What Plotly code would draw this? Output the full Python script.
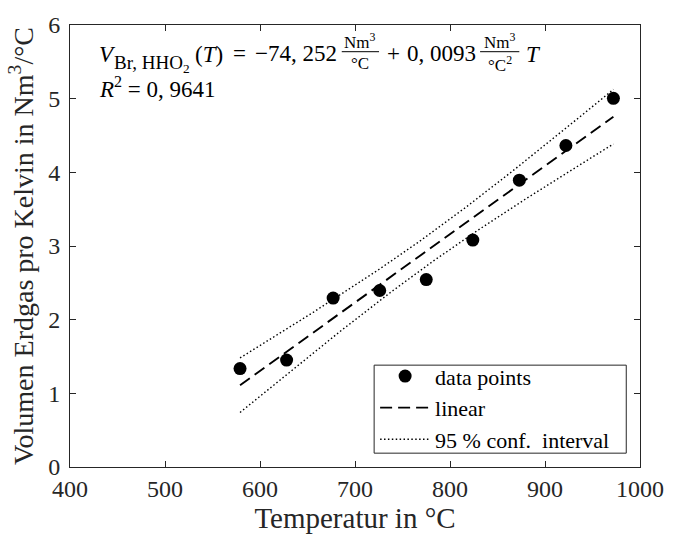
import numpy as np
import plotly.graph_objects as go

# Measured data
temperature = [579, 628, 677, 726, 775, 824, 873, 922, 972]            # °C
volume = [1.336, 1.451, 2.293, 2.396, 2.544, 3.081, 3.894, 4.364, 5.004]  # Nm³/°C

x_ticks = [400, 500, 600, 700, 800, 900, 1000]
y_ticks = [0, 1, 2, 3, 4, 5, 6]

# Regression statement shown on the chart
eq_symbol = "<i>V</i>"
eq_index = "Br, HHO<sub>2</sub>"
eq_arg = "(<i>T</i>)"
eq_intercept = "−74, 252"
eq_slope = "0, 0093"
eq_r2 = "<i>R</i><sup>2</sup> = 0, 9641"
unit_num = "Nm<sup>3</sup>"
unit_den1 = "°C"
unit_den2 = "°C<sup>2</sup>"

T_975_DOF7 = 2.3646  # two-sided 95 % Student-t quantile, n - 2 = 7 dof

# Least-squares line and 95 % confidence band of the fitted mean
x = np.asarray(temperature, float)
y = np.asarray(volume, float)
slope, intercept = np.polyfit(x, y, 1)
n = len(x)
s = np.sqrt(np.sum((y - (intercept + slope * x)) ** 2) / (n - 2))
xg = np.linspace(x.min(), x.max(), 200)
yg = intercept + slope * xg
half = T_975_DOF7 * s * np.sqrt(1 / n + (xg - x.mean()) ** 2 / np.sum((x - x.mean()) ** 2))

FONT = "Liberation Serif"
INK = "#262626"
DOTS = "1.5px,2.4px"

fig = go.Figure()
fig.add_trace(go.Scatter(x=temperature, y=volume, mode="markers", name="data points",
                         marker=dict(color="black", size=13)))
fig.add_trace(go.Scatter(x=xg, y=yg, mode="lines", name="linear",
                         line=dict(color="black", width=1.9, dash="12px,6px")))
fig.add_trace(go.Scatter(x=xg, y=yg + half, mode="lines", name="95 % conf.\u00a0 interval",
                         legendgroup="ci", line=dict(color="black", width=1.4, dash=DOTS)))
fig.add_trace(go.Scatter(x=xg, y=yg - half, mode="lines", showlegend=False,
                         legendgroup="ci", line=dict(color="black", width=1.4, dash=DOTS)))

# plot-area geometry in pixels
L, R, T, B = 70, 651, 20, 467


def px(xp):
    return (xp - L) / (R - L)


def py(yp):
    return (B - yp) / (B - T)


ann = []


def text(xp, yp, s, size=23, xanchor="left"):
    ann.append(dict(x=px(xp), y=py(yp), xref="paper", yref="paper", text=s, showarrow=False,
                    xanchor=xanchor, yanchor="middle", font=dict(family=FONT, size=size, color="black")))


shapes = []


def fraction(cx, num, den, w=38):
    text(cx, 36, num, size=17, xanchor="center")
    text(cx, 59, den, size=17, xanchor="center")
    shapes.append(dict(type="line", xref="paper", yref="paper", x0=px(cx - w / 2), x1=px(cx + w / 2),
                       y0=py(47), y1=py(47), line=dict(color="black", width=1)))


text(98, 50, eq_symbol)
text(113, 59, eq_index, size=19)
text(195, 50, eq_arg)
text(234, 49, "=")
text(257, 49, eq_intercept)
fraction(366, unit_num, unit_den1)
text(391, 49, "+")
text(411, 49, eq_slope)
fraction(508, unit_num, unit_den2, w=40)
text(533, 50, "<i>T</i>")
text(98, 83, eq_r2)

# frame around the legend entries
shapes.append(dict(type="rect", xref="paper", yref="paper", layer="above",
                   x0=px(380), x1=px(637), y0=py(453), y1=py(364),
                   fillcolor="white", line=dict(color=INK, width=1)))

axis_common = dict(showline=True, linecolor=INK, linewidth=1, mirror="ticks", ticks="inside",
                   ticklen=6, tickcolor=INK, showgrid=False, zeroline=False,
                   tickfont=dict(family=FONT, size=24, color=INK))

fig.update_layout(
    width=676, height=539,
    margin=dict(l=L, r=676 - R, t=T, b=539 - B),
    paper_bgcolor="white", plot_bgcolor="white",
    font=dict(family=FONT, color=INK),
    xaxis=dict(range=[400, 1000], tickvals=x_ticks, **axis_common,
               title=dict(text="Temperatur in °C", font=dict(family=FONT, size=29, color=INK), standoff=5)),
    yaxis=dict(range=[0, 6], tickvals=y_ticks, ticklabelstandoff=4, **axis_common,
               title=dict(text="Volumen Erdgas pro Kelvin in Nm<sup>3</sup>/°C",
                          font=dict(family=FONT, size=28, color=INK), standoff=6)),
    legend=dict(x=px(381), y=py(354), xanchor="left", yanchor="top", bgcolor="rgba(0,0,0,0)",
                borderwidth=0, itemwidth=50, tracegroupgap=0,
                font=dict(family=FONT, size=22, color="black")),
    annotations=ann, shapes=shapes, showlegend=True,
)

fig.write_html("out.html")
